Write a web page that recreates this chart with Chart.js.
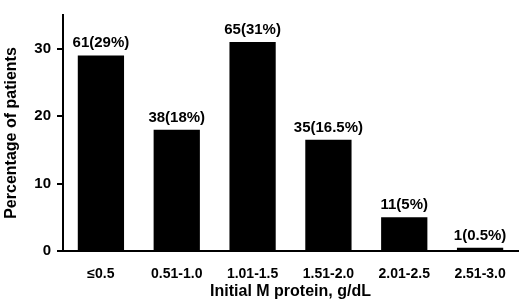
<!DOCTYPE html>
<html>
<head>
<meta charset="utf-8">
<script src="https://cdn.jsdelivr.net/npm/chart.js@4/dist/chart.umd.min.js"></script>
<style>
    html, body { margin: 0; padding: 0; background: #fff; }
    #wrap { width: 520px; height: 305px; }
</style>
</head>
<body>
<div id="wrap"><canvas id="myChart" width="520" height="305"></canvas></div>
<script>
var categories = ["\u22640.5", "0.51-1.0", "1.01-1.5", "1.51-2.0", "2.01-2.5", "2.51-3.0"];
var percentages = [29, 18, 31, 16.5, 5, 0.5];
var patientCounts = [61, 38, 65, 35, 11, 1];
var yTicks = [0, 10, 20, 30];

var FONT = "'Liberation Sans', Arial, Helvetica, sans-serif";

// draws "n(p%)" above each bar
var barLabels = {
    id: "barLabels",
    afterDatasetsDraw: function (chart) {
        var ctx = chart.ctx;
        var meta = chart.getDatasetMeta(0);
        ctx.save();
        ctx.fillStyle = "#000";
        ctx.font = "bold 15px " + FONT;
        ctx.textAlign = "center";
        ctx.textBaseline = "alphabetic";
        meta.data.forEach(function (bar, i) {
            ctx.fillText(patientCounts[i] + "(" + percentages[i] + "%)", bar.x, bar.y - 8);
        });
        ctx.restore();
    },
};

document.addEventListener("DOMContentLoaded", function () {
    var ctx = document.getElementById("myChart").getContext("2d");
    new Chart(ctx, {
        type: "bar",
        data: {
            labels: categories,
            datasets: [
                {
                    data: percentages,
                    backgroundColor: "#000",
                    borderWidth: 0,
                    barPercentage: 0.61,
                    categoryPercentage: 1.0,
                },
            ],
        },
        options: {
            responsive: false,
            animation: false,
            devicePixelRatio: 1,
            layout: {
                padding: { top: 2, right: 2, left: 0, bottom: 0 },
            },
            plugins: {
                legend: { display: false },
                tooltip: { enabled: false },
            },
            scales: {
                x: {
                    grid: { display: false },
                    border: { color: "#000", width: 2 },
                    ticks: {
                        color: "#000",
                        padding: 7,
                        maxRotation: 0,
                        font: { family: FONT, size: 14, weight: "bold" },
                    },
                    title: {
                        display: true,
                        text: "Initial M protein, g/dL",
                        color: "#000",
                        padding: { top: 4, bottom: 4 },
                        font: { family: FONT, size: 16, weight: "bold" },
                    },
                    afterFit: function (scale) {
                        scale.height = 54;
                    },
                },
                y: {
                    min: 0,
                    max: 35,
                    grid: {
                        drawOnChartArea: false,
                        drawTicks: true,
                        tickLength: 6,
                        color: "#000",
                        lineWidth: 2,
                    },
                    border: { color: "#000", width: 2 },
                    ticks: {
                        stepSize: 10,
                        color: "#000",
                        padding: 6,
                        font: { family: FONT, size: 15, weight: "bold" },
                    },
                    afterBuildTicks: function (scale) {
                        scale.ticks = yTicks.map(function (v) {
                            return { value: v };
                        });
                    },
                    title: {
                        display: true,
                        text: "Percentage of patients",
                        color: "#000",
                        padding: { top: 2, bottom: 4 },
                        font: { family: FONT, size: 16, weight: "bold" },
                    },
                    afterFit: function (scale) {
                        scale.width = 63;
                    },
                },
            },
        },
        plugins: [barLabels],
    });
});
</script>
</body>
</html>
